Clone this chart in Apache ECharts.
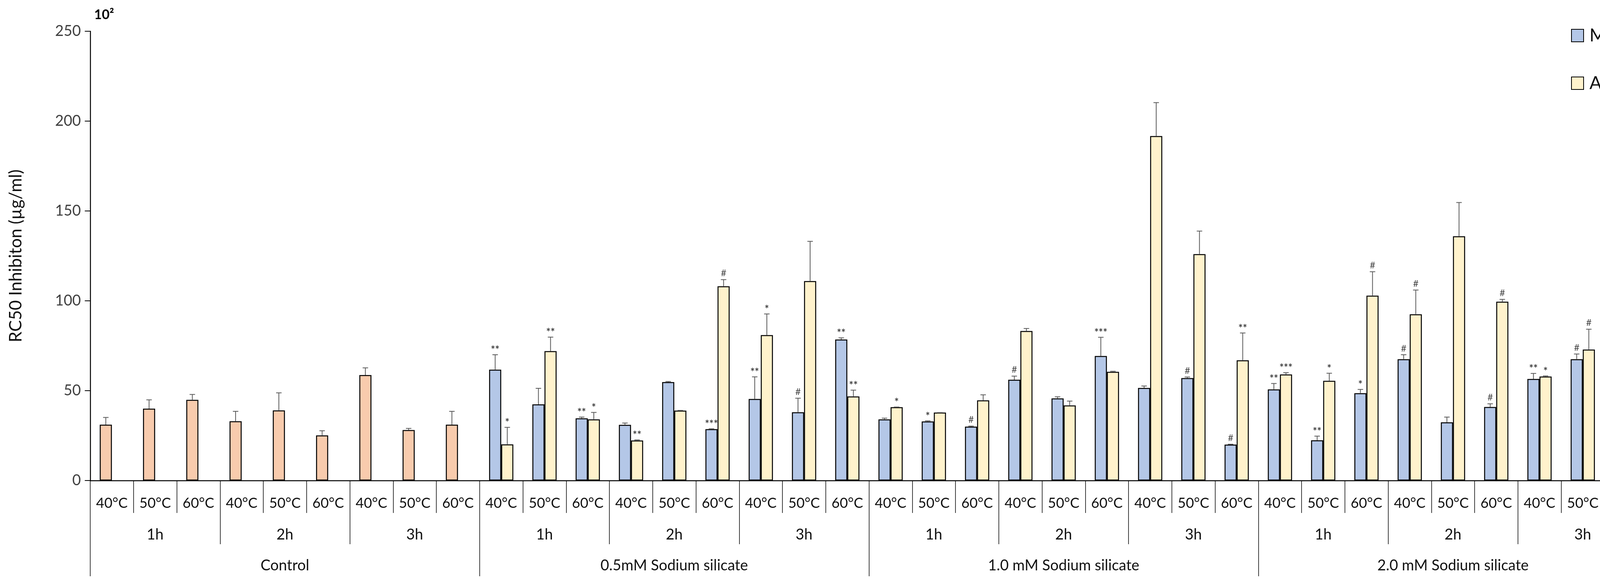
<!DOCTYPE html>
<html>
<head>
<meta charset="utf-8">
<script src="https://cdn.jsdelivr.net/npm/echarts@6/dist/echarts.min.js"></script>
<style>
html,body{margin:0;padding:0;background:#fff;}
#chart{width:4230px;height:1500px;}
</style>
</head>
<body>
<div id="chart"></div>
<script>
// ---------- data ----------
const temps = ['40°C','50°C','60°C','40°C','50°C','60°C','40°C','50°C','60°C',
               '40°C','50°C','60°C','40°C','50°C','60°C','40°C','50°C','60°C',
               '40°C','50°C','60°C','40°C','50°C','60°C','40°C','50°C','60°C',
               '40°C','50°C','60°C','40°C','50°C','60°C','40°C','50°C','60°C'];
const hours = ['1h','2h','3h','1h','2h','3h','1h','2h','3h','1h','2h','3h'];
const groups = ['Control','0.5mM Sodium silicate','1.0 mM Sodium silicate','2.0 mM Sodium silicate'];

// Control values are drawn in the Media slot (peach colour)
const mediaValues = [31.1, 40.0, 44.9, 33.0, 39.0, 25.1, 58.7, 28.1, 31.1,
                     61.7, 42.4, 34.6, 31.0, 54.8, 28.6, 45.4, 38.0, 78.5,
                     34.0, 32.9, 30.0, 56.1, 45.7, 69.3, 51.5, 57.0, 20.0,
                     50.7, 22.4, 48.6, 67.5, 32.4, 40.9, 56.5, 67.5, 45.7];
const mediaError = [4.0, 4.9, 3.0, 5.5, 9.8, 2.6, 4.0, 0.9, 7.4,
                    8.3, 8.9, 0.7, 1.0, 0.3, 0.2, 12.3, 7.8, 0.9,
                    0.7, 0.3, 0.3, 2.0, 0.9, 10.4, 1.1, 0.6, 0.2,
                    3.3, 2.3, 2.1, 2.5, 2.9, 1.8, 3.1, 2.9, 0.2];
const mediaSig = ['','','','','','','','','',
                  '**','','**','','','***','**','#','**',
                  '','*','#','#','','***','','#','#',
                  '**','**','*','#','','#','**','#','**'];

const aerialValues = [null, null, null, null, null, null, null, null, null,
                      20.1, 72.0, 34.0, 22.3, 38.9, 108.1, 80.9, 111.0, 46.8,
                      40.8, 37.8, 44.6, 83.2, 41.8, 60.5, 191.7, 126.0, 66.9,
                      59.0, 55.5, 102.9, 92.5, 135.9, 99.5, 57.9, 72.9, 58.5];
const aerialError = [0, 0, 0, 0, 0, 0, 0, 0, 0,
                     9.5, 7.8, 3.9, 0.3, 0.1, 3.7, 11.8, 22.1, 3.5,
                     0.1, 0.0, 3.1, 1.4, 2.4, 0.3, 18.6, 12.8, 15.2,
                     1.0, 4.2, 13.3, 13.5, 18.8, 1.3, 0.3, 11.3, 9.1];
const aerialSig = ['','','','','','','','','',
                   '*','**','*','**','','#','*','','**',
                   '*','','','','','','','','**',
                   '***','*','#','#','','#','*','#','**'];

const yTicks = {min: 0, max: 250, interval: 50};
const controlCount = 9;

// ---------- styles ----------
const FONT = 'Lato, "Noto Sans", sans-serif';
const MEDIA_COLOR = '#B4C7E7';
const AERIAL_COLOR = '#FFF2CC';
const CONTROL_COLOR = '#F8CBAD';
const BAR_FRAC = 0.28;

const mediaData = mediaValues.map((v, i) => i < controlCount
  ? {value: v, itemStyle: {color: CONTROL_COLOR}}
  : v);

function errData(values, errs) {
  const out = [];
  values.forEach((v, i) => { if (v !== null) out.push([i, v, errs[i]]); });
  return out;
}

function makeErrRender(side, sigs) {
  return function (params, api) {
    const idx = api.value(0);
    const v = api.value(1);
    const e = api.value(2);
    const band = api.size([1, 0])[0];
    const bw = band * BAR_FRAC;
    const x = api.coord([idx, 0])[0] + side * bw / 2;
    const yBar = api.coord([idx, v])[1];
    const yTop = api.coord([idx, v + e])[1];
    const children = [];
    if (e > 0) {
      children.push({type: 'line', shape: {x1: x, y1: yBar, x2: x, y2: yTop},
        style: {stroke: '#595959', lineWidth: 2}});
    }
    children.push({type: 'line', shape: {x1: x - 7, y1: yTop, x2: x + 7, y2: yTop},
      style: {stroke: '#595959', lineWidth: 2}});
    const s = sigs[idx];
    if (s) {
      children.push({type: 'text', x: x, y: yTop - (s === '#' ? 16 : 12),
        style: {text: s, fill: '#404040', font: (s === '#' ? '24px ' : 'bold 26px ') + FONT,
          align: 'center', verticalAlign: 'middle'}});
    }
    return {type: 'group', children: children};
  };
}

const chart = echarts.init(document.getElementById('chart'));
chart.setOption({
  animation: false,
  backgroundColor: '#fff',
  title: {text: '10²', left: 236, top: 16,
    textStyle: {fontSize: 34, fontWeight: 'bold', color: '#000', fontFamily: FONT}},
  legend: {
    data: ['Media', 'Aerial'], orient: 'vertical', left: 4017, top: 63,
    itemWidth: 31, itemHeight: 32, itemGap: 76, icon: 'rect',
    itemStyle: {borderColor: '#000', borderWidth: 2},
    textStyle: {fontSize: 46, color: '#111', fontFamily: FONT, padding: [0, 0, 0, 10]}
  },
  grid: {left: 231, right: 12, top: 80, bottom: 270, containLabel: false},
  xAxis: [
    {type: 'category', data: temps, position: 'bottom',
      axisLine: {show: true, lineStyle: {color: '#000', width: 2.5}},
      axisTick: {show: true, interval: 0, length: 83, lineStyle: {color: '#000', width: 1.5}},
      axisLabel: {interval: 0, margin: 40, fontSize: 36, color: '#111', fontFamily: FONT},
      splitLine: {show: false}},
    {type: 'category', data: hours, position: 'bottom', gridIndex: 0,
      axisLine: {show: false},
      axisTick: {show: true, interval: 0, length: 163, lineStyle: {color: '#000', width: 1.5}},
      axisLabel: {interval: 0, margin: 120, fontSize: 38, color: '#111', fontFamily: FONT},
      splitLine: {show: false}},
    {type: 'category', data: groups, position: 'bottom', gridIndex: 0,
      axisLine: {show: false},
      axisTick: {show: true, interval: 0, length: 245, lineStyle: {color: '#000', width: 1.5}},
      axisLabel: {interval: 0, margin: 199, fontSize: 38, color: '#111', fontFamily: FONT},
      splitLine: {show: false}}
  ],
  yAxis: {
    type: 'value', min: yTicks.min, max: yTicks.max, interval: yTicks.interval,
    name: 'RC50 Inhibiton (µg/ml)', nameLocation: 'middle', nameRotate: 90, nameGap: 168,
    nameTextStyle: {fontSize: 44, color: '#111', fontFamily: FONT},
    axisLine: {show: true, lineStyle: {color: '#000', width: 2.5}},
    axisTick: {show: true, inside: false, length: 14, lineStyle: {color: '#000', width: 2}},
    axisLabel: {fontSize: 38, color: '#404040', margin: 24, fontFamily: FONT},
    splitLine: {show: false}
  },
  series: [
    {name: 'Media', type: 'bar', xAxisIndex: 0, data: mediaData,
      barWidth: (BAR_FRAC * 100) + '%', barGap: '0%',
      itemStyle: {color: MEDIA_COLOR, borderColor: '#000', borderWidth: 2.5}},
    {name: 'Aerial', type: 'bar', xAxisIndex: 0, data: aerialValues,
      barWidth: (BAR_FRAC * 100) + '%', barGap: '0%',
      itemStyle: {color: AERIAL_COLOR, borderColor: '#000', borderWidth: 2.5}},
    {name: 'MediaErr', type: 'custom', xAxisIndex: 0, data: errData(mediaValues, mediaError),
      renderItem: makeErrRender(-1, mediaSig), z: 5},
    {name: 'AerialErr', type: 'custom', xAxisIndex: 0, data: errData(aerialValues, aerialError),
      renderItem: makeErrRender(1, aerialSig), z: 5}
  ]
});
</script>
</body>
</html>
